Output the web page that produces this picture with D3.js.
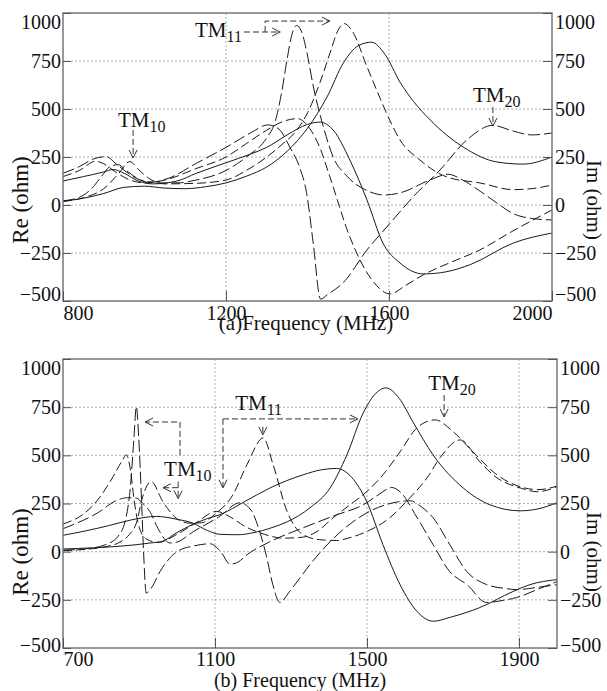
<!DOCTYPE html>
<html>
<head>
<meta charset="utf-8">
<script src="https://cdn.jsdelivr.net/npm/d3@7"></script>
<style>
  body { margin: 0; background: #fff; }
  svg { display: block; }
</style>
</head>
<body>
<div id="chart"></div>
<script>
// ---- DATA ----
const aXTicks = [800, 1200, 1600, 2000];
const bXTicks = [700, 1100, 1500, 1900];
const yTicks = [-500, -250, 0, 250, 500, 750, 1000];

// panel (a): [frequency MHz, ohm]
const aRe1 = [[800,22],[840,40],[870,85],[895,150],[915,200],[935,210],[955,180],[985,135],[1020,115],[1080,115],[1127,130],[1200,180],[1250,250],[1300,350],[1320,430],[1336,580],[1350,760],[1362,890],[1373,935],[1385,905],[1399,790],[1414,620],[1440,400],[1463,250],[1497,150],[1546,75],[1590,52],[1630,65],[1700,130],[1745,160],[1781,130],[1825,70],[1865,10],[1905,-45],[1950,-70],[2000,-78]];
const aIm1 = [[800,165],[840,200],[875,240],[906,252],[930,215],[960,165],[990,130],[1020,120],[1060,140],[1127,217],[1200,300],[1260,375],[1303,417],[1330,395],[1357,300],[1380,200],[1398,60],[1414,-198],[1432,-490],[1450,-465],[1487,-406],[1546,-234],[1603,-94],[1659,42],[1725,182],[1791,339],[1855,415],[1900,388],[1950,365],[2000,375]];
const aRe2 = [[800,18],[850,38],[900,85],[935,160],[964,226],[985,185],[1010,140],[1050,110],[1127,113],[1200,130],[1250,180],[1300,250],[1340,320],[1370,380],[1400,480],[1431,640],[1455,790],[1475,910],[1490,945],[1510,905],[1546,720],[1578,557],[1600,450],[1627,339],[1676,234],[1742,146],[1823,115],[1905,80],[1950,85],[2000,104]];
const aIm2 = [[800,148],[840,180],[880,228],[900,215],[930,170],[965,130],[1000,115],[1050,130],[1127,190],[1200,250],[1250,320],[1300,390],[1340,435],[1375,450],[1405,400],[1430,300],[1455,146],[1504,-167],[1553,-375],[1603,-463],[1640,-420],[1683,-365],[1750,-300],[1823,-234],[1900,-140],[2000,-26]];
const aRe3 = [[800,20],[850,35],[900,60],[950,92],[1000,98],[1050,88],[1100,85],[1150,95],[1200,115],[1250,150],[1300,198],[1350,280],[1400,400],[1448,563],[1488,740],[1525,830],[1557,848],[1590,785],[1627,640],[1660,540],[1701,443],[1782,302],[1865,224],[1929,213],[2000,250]];
const aIm3 = [[800,125],[850,148],[900,172],[923,185],[950,165],[985,125],[1020,110],[1080,125],[1127,165],[1200,220],[1260,265],[1300,300],[1350,365],[1400,420],[1431,432],[1465,385],[1504,234],[1546,26],[1585,-198],[1627,-302],[1684,-359],[1740,-348],[1800,-310],[1905,-198],[2000,-146]];

// panel (b)
const bF = [[700,8],[760,15],[810,35],[845,80],[865,170],[878,350],[887,600],[893,753],[899,600],[906,300],[912,0],[919,-215],[932,-190],[955,-104],[1000,0],[1045,30],[1087,41],[1115,0],[1140,-65],[1160,-55],[1184,-16],[1245,52],[1332,124],[1421,192],[1490,243],[1530,295],[1565,333],[1587,311],[1632,176],[1674,36],[1718,-104],[1763,-171],[1815,-264],[1860,-252],[1894,-238],[1950,-195],[2000,-155]];
const bA = [[700,144],[750,190],[790,265],[832,390],[855,470],[867,502],[877,430],[887,270],[900,130],[920,65],[950,48],[1000,90],[1050,150],[1104,209],[1140,180],[1180,130],[1230,90],[1280,70],[1330,75],[1368,104],[1411,176],[1455,243],[1499,311],[1542,399],[1587,518],[1631,642],[1679,684],[1727,622],[1779,518],[1842,399],[1903,337],[1950,322],[2000,340]];
const bB = [[700,119],[750,160],[790,200],[840,265],[870,280],[893,278],[910,250],[928,210],[950,120],[970,60],[981,45],[1000,50],[1043,104],[1110,180],[1166,254],[1195,215],[1215,120],[1235,-20],[1252,-170],[1271,-264],[1295,-210],[1324,-135],[1350,-67],[1403,52],[1463,155],[1530,230],[1580,258],[1613,264],[1645,230],[1674,176],[1718,36],[1763,-104],[1815,-171],[1860,-190],[1894,-197],[1950,-185],[2000,-171]];
const bC = [[700,5],[760,12],[810,25],[850,50],[875,90],[893,148],[910,287],[932,364],[963,259],[998,174],[1033,148],[1065,150],[1100,195],[1147,295],[1184,451],[1227,590],[1253,451],[1290,207],[1332,88],[1376,62],[1420,58],[1455,73],[1499,104],[1560,176],[1613,280],[1658,383],[1692,487],[1745,580],[1797,466],[1842,383],[1903,331],[1948,311],[2000,337]];
const bRe = [[700,85],[760,108],[820,135],[880,165],[946,183],[1000,168],[1042,148],[1080,110],[1113,90],[1160,88],[1200,98],[1250,125],[1290,155],[1350,228],[1403,331],[1447,502],[1490,720],[1520,815],[1550,850],[1585,795],[1621,673],[1674,502],[1753,331],[1824,243],[1903,212],[1950,222],[2000,254]];
const bIm = [[700,14],[780,20],[860,30],[930,45],[963,55],[998,97],[1040,140],[1080,172],[1113,192],[1180,262],[1245,331],[1332,399],[1380,425],[1420,432],[1460,385],[1499,261],[1542,36],[1587,-171],[1632,-311],[1674,-361],[1720,-340],[1797,-290],[1884,-207],[1929,-171],[2000,-145]];

// mode labels and their arrows, in data units
const aLabels = [{f: 935, v: 406, sub: "10"}, {f: 1124, v: 875, sub: "11"}, {f: 1806, v: 536, sub: "20"}];
const aArrows = [
  [[972,391],[972,245]],
  [[1244,901],[1333,901]],
  [[1296,901],[1296,958],[1455,958]],
  [[1855,510],[1855,411]]
];
const bLabels = [{f: 966, v: 394, sub: "10"}, {f: 1153, v: 736, sub: "11"}, {f: 1661, v: 839, sub: "20"}];
const bArrows = [
  [[1008,502],[1008,673],[916,673]],
  [[1003,363],[1003,275]],
  [[1003,332],[963,332]],
  [[1121,689],[1476,689]],
  [[1121,689],[1121,332]],
  [[1226,648],[1226,606]],
  [[1703,813],[1703,699]]
];

// ---- DRAWING ----
const FONT = '"Liberation Serif", "Times New Roman", "DejaVu Serif", serif';
const width = 607, height = 691;
const svg = d3.select("#chart").append("svg")
  .attr("width", width).attr("height", height);

const defs = svg.append("defs");
defs.append("marker")
  .attr("id", "arr")
  .attr("markerUnits", "userSpaceOnUse")
  .attr("viewBox", "-1 -5 10 10")
  .attr("markerWidth", 10).attr("markerHeight", 10)
  .attr("refX", 8).attr("refY", 0)
  .attr("orient", "auto")
  .append("path")
  .attr("d", "M0,-4L8,0L0,4")
  .attr("fill", "none").attr("stroke", "#333").attr("stroke-width", 1);

const panels = [
  {
    id: "a", left: 63, right: 552, top: 13, bottom: 301,
    xDomain: [800, 2000], xTicks: aXTicks, xPad: 5, topShift: 9, botShift: -7,
    curves: [
      {data: aRe1, dash: "12,4"}, {data: aIm1, dash: "12,4"},
      {data: aRe2, dash: "9,4"}, {data: aIm2, dash: "9,4"},
      {data: aRe3, dash: null}, {data: aIm3, dash: null}
    ],
    labels: aLabels, arrows: aArrows,
    xLabel: "(a)Frequency (MHz)", xLabelX: 306, xLabelY: 330, xLabelSize: 21, midY: 200
  },
  {
    id: "b", left: 63, right: 557, top: 359, bottom: 648,
    xDomain: [700, 2000], xTicks: bXTicks, xPad: 4, topShift: 9, botShift: -3,
    curves: [
      {data: bF, dash: "12,4"}, {data: bA, dash: "9,4"},
      {data: bB, dash: "12,4"}, {data: bC, dash: "9,4"},
      {data: bRe, dash: null}, {data: bIm, dash: null}
    ],
    labels: bLabels, arrows: bArrows,
    xLabel: "(b) Frequency (MHz)", xLabelX: 300, xLabelY: 687, xLabelSize: 20, midY: 552
  }
];

panels.forEach(p => {
  const x = d3.scaleLinear().domain(p.xDomain).range([p.left, p.right]);
  const y = d3.scaleLinear().domain([-500, 1000]).range([p.bottom, p.top]);
  const g = svg.append("g");

  defs.append("clipPath").attr("id", "clip-" + p.id)
    .append("rect")
    .attr("x", p.left).attr("y", p.top)
    .attr("width", p.right - p.left).attr("height", p.bottom - p.top);

  // dotted grid
  g.selectAll(".hgrid").data(yTicks.filter(d => d > -500 && d < 1000)).join("line")
    .attr("x1", p.left).attr("x2", p.right)
    .attr("y1", d => y(d)).attr("y2", d => y(d))
    .attr("stroke", "#9a9a9a").attr("stroke-width", 0.8).attr("stroke-dasharray", "2,2");
  g.selectAll(".vgrid").data(p.xTicks.filter(d => d > p.xDomain[0] && d < p.xDomain[1])).join("line")
    .attr("x1", d => x(d)).attr("x2", d => x(d))
    .attr("y1", p.top).attr("y2", p.bottom)
    .attr("stroke", "#9a9a9a").attr("stroke-width", 0.8).attr("stroke-dasharray", "2,2");

  // curves
  const line = d3.line()
    .x(d => x(d[0]))
    .y(d => y(d[1]))
    .curve(d3.curveMonotoneX);
  const cg = g.append("g").attr("clip-path", `url(#clip-${p.id})`);
  p.curves.forEach(c => {
    cg.append("path")
      .datum(c.data)
      .attr("fill", "none")
      .attr("stroke", "#1a1a1a")
      .attr("stroke-width", 1)
      .attr("stroke-dasharray", c.dash)
      .attr("d", line);
  });

  // frame
  g.append("rect")
    .attr("x", p.left).attr("y", p.top)
    .attr("width", p.right - p.left).attr("height", p.bottom - p.top)
    .attr("fill", "none").attr("stroke", "#777").attr("stroke-width", 1.5);

  // axes
  const fontSize = 20;
  const xAxis = g.append("g")
    .attr("transform", `translate(0,${p.bottom})`)
    .call(d3.axisBottom(x).tickValues(p.xTicks).tickSize(-10).tickPadding(p.xPad).tickFormat(d3.format("d")));
  xAxis.select(".domain").remove();
  xAxis.selectAll("line").attr("stroke", "#555");
  xAxis.selectAll("text")
    .style("font-family", FONT).style("font-size", fontSize + "px").attr("fill", "#111")
    .attr("text-anchor", d => d === p.xDomain[0] ? "start" : (d === p.xDomain[1] ? "end" : "middle"));

  const yLeft = g.append("g")
    .attr("transform", `translate(${p.left},0)`)
    .call(d3.axisLeft(y).tickValues(yTicks).tickSize(-8).tickPadding(2).tickFormat(d3.format("d")));
  const yRight = g.append("g")
    .attr("transform", `translate(${p.right},0)`)
    .call(d3.axisRight(y).tickValues(yTicks).tickSize(-9).tickPadding(3).tickFormat(d3.format("d")));
  [yLeft, yRight].forEach(ax => {
    ax.select(".domain").remove();
    ax.selectAll("line").attr("stroke", "#555");
    ax.selectAll("text")
      .style("font-family", FONT).style("font-size", fontSize + "px").attr("fill", "#111")
      .attr("y", d => d === 1000 ? p.topShift : (d === -500 ? p.botShift : 0));
  });

  // axis titles
  g.append("text")
    .attr("transform", `translate(20,${p.midY}) rotate(-90)`)
    .attr("text-anchor", "middle").attr("dy", "0.35em")
    .style("font-family", FONT).style("font-size", "23px").attr("fill", "#111")
    .text("Re (ohm)");
  g.append("text")
    .attr("transform", `translate(594,${p.midY}) rotate(90)`)
    .attr("text-anchor", "middle").attr("dy", "0.33em")
    .style("font-family", FONT).style("font-size", "21px").attr("fill", "#111")
    .text("Im (ohm)");
  g.append("text")
    .attr("x", p.xLabelX).attr("y", p.xLabelY)
    .attr("text-anchor", "middle")
    .style("font-family", FONT).style("font-size", p.xLabelSize + "px").attr("fill", "#111")
    .text(p.xLabel);

  // mode annotations
  p.arrows.forEach(a => {
    g.append("path")
      .attr("d", d3.line().x(d => x(d[0])).y(d => y(d[1]))(a))
      .attr("fill", "none").attr("stroke", "#333").attr("stroke-width", 1)
      .attr("stroke-dasharray", "6,3")
      .attr("marker-end", "url(#arr)");
  });
  p.labels.forEach(l => {
    const t = g.append("text")
      .attr("x", x(l.f)).attr("y", y(l.v))
      .style("font-family", FONT).style("font-size", "21px").attr("fill", "#111");
    t.append("tspan").text("TM");
    t.append("tspan").attr("dy", 5).style("font-size", "16px").text(l.sub);
  });
});
</script>
</body>
</html>
